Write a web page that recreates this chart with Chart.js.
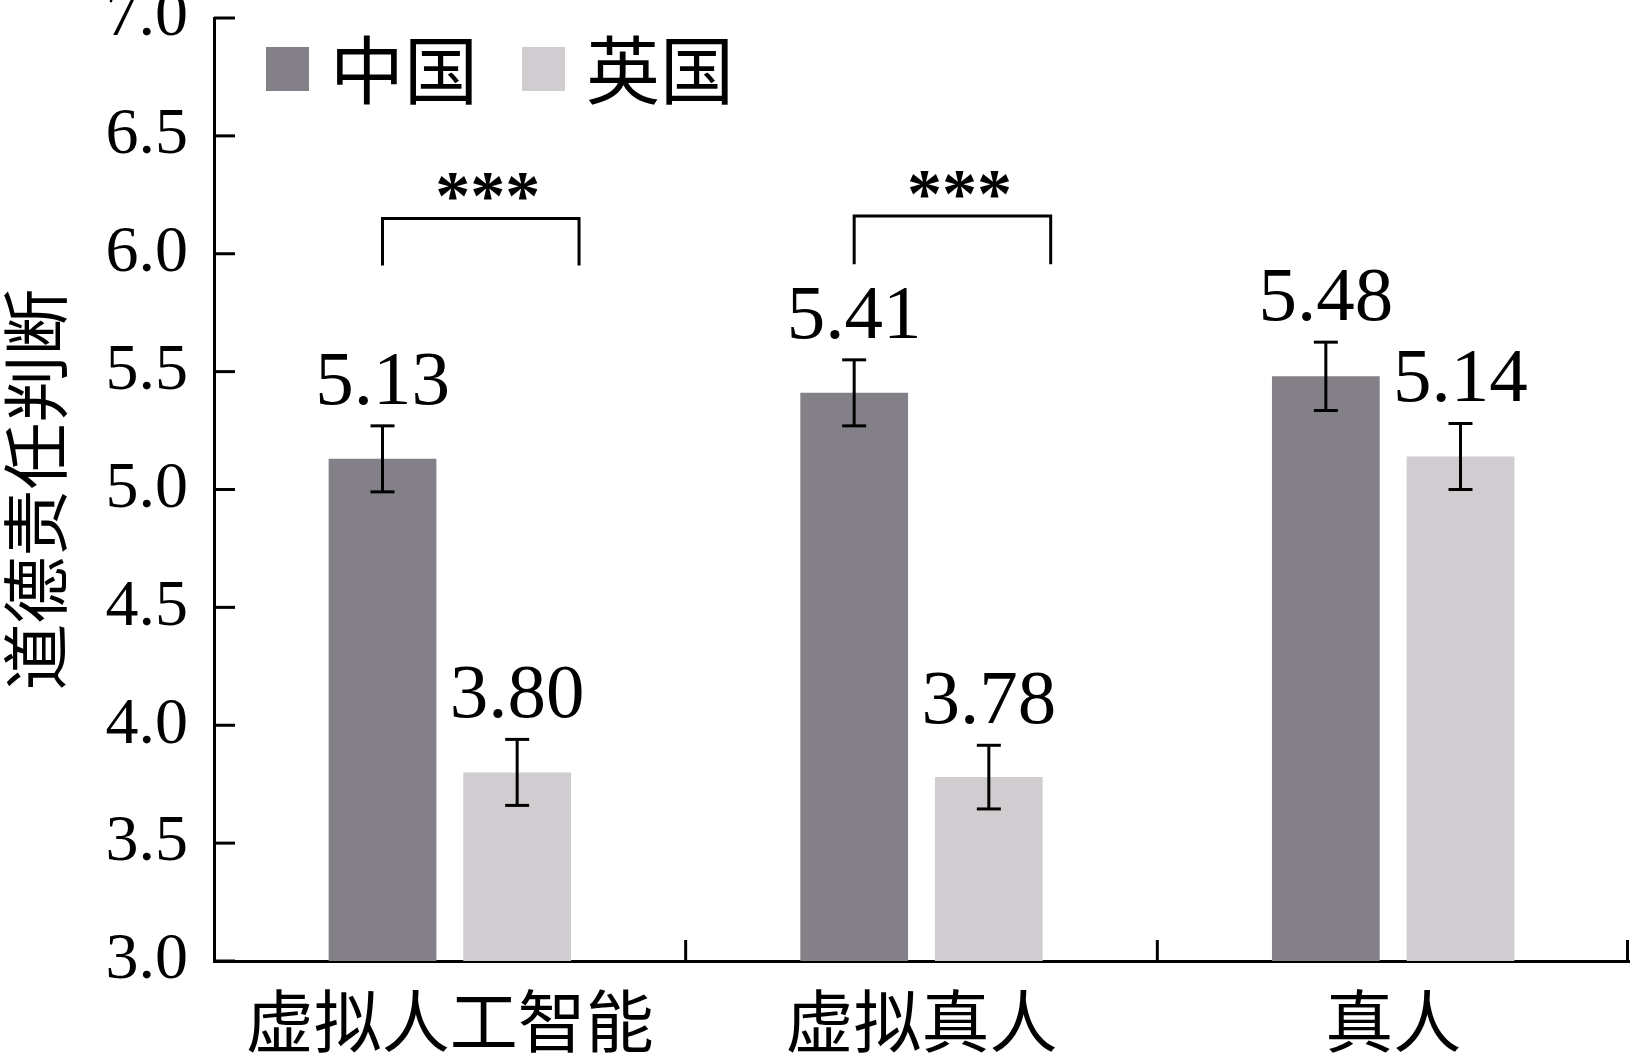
<!DOCTYPE html>
<html>
<head>
<meta charset="utf-8">
<title>道德责任判断</title>
<script src="https://cdn.jsdelivr.net/npm/chart.js@4.4.0/dist/chart.umd.min.js"></script>
<style>
  body { margin:0; background:#fff; }
  #c { display:block; }
</style>
</head>
<body>
<canvas id="c" width="1634" height="1061"></canvas>
<script>
// data
const categories = ['虚拟人工智能', '虚拟真人', '真人'];
const seriesNames = ['中国', '英国'];
const chinaMeans = [5.13, 5.41, 5.48];
const ukMeans = [3.80, 3.78, 5.14];
const chinaErr = [0.14, 0.14, 0.145];
const ukErr = [0.14, 0.135, 0.14];
const yMin = 3.0, yMax = 7.0, yStep = 0.5;
const yTitle = '道德责任判断';
// significance brackets: category index, top of bracket, foot of legs
const sigCats = [0, 1];
const sigTop = [6.15, 6.16];
const sigFoot = [5.95, 5.955];
const sigText = ['***', '***'];

const serif = "'Liberation Serif', 'Times New Roman', serif";
const cjk = "'Noto Sans CJK SC', 'Noto Sans CJK JP', sans-serif";
const colors = ['#838187', '#d0cccf'];

function seg(ctx, x1, y1, x2, y2){ ctx.beginPath(); ctx.moveTo(x1,y1); ctx.lineTo(x2,y2); ctx.stroke(); }

const decor = {
  id: 'decor',
  afterDatasetsDraw(chart){
    const ctx = chart.ctx, xs = chart.scales.x, ys = chart.scales.y, area = chart.chartArea;
    ctx.save();
    ctx.strokeStyle = '#000'; ctx.fillStyle = '#000'; ctx.lineWidth = 3;
    // inward ticks on y axis
    ys.ticks.forEach(t => { const py = ys.getPixelForValue(t.value); seg(ctx, area.left, py, area.left + 21, py); });
    // upward ticks between categories and at right end
    for (let i = 0; i < categories.length; i++) {
      const px = i < categories.length - 1 ? (xs.getPixelForValue(i) + xs.getPixelForValue(i + 1)) / 2 : area.right - 1.5;
      seg(ctx, px, area.bottom, px, area.bottom - 21);
    }
    // error bars + value labels
    ctx.font = '77px ' + serif; ctx.textAlign = 'center'; ctx.textBaseline = 'alphabetic';
    chart.data.datasets.forEach((ds, di) => {
      chart.getDatasetMeta(di).data.forEach((bar, i) => {
        const v = ds.data[i], e = ds.err[i];
        const top = ys.getPixelForValue(v + e), bot = ys.getPixelForValue(v - e);
        seg(ctx, bar.x, top, bar.x, bot);
        seg(ctx, bar.x - 12, top, bar.x + 12, top);
        seg(ctx, bar.x - 12, bot, bar.x + 12, bot);
        ctx.fillText(v.toFixed(2), bar.x, top - 22);
      });
    });
    // significance brackets
    ctx.font = 'bold 70px ' + serif;
    sigCats.forEach((c, k) => {
      const a = chart.getDatasetMeta(0).data[c], b = chart.getDatasetMeta(1).data[c];
      const x1 = a.x, x2 = b.x + b.width / 2 + 8;
      const yt = ys.getPixelForValue(sigTop[k]), yf = ys.getPixelForValue(sigFoot[k]);
      ctx.beginPath(); ctx.moveTo(x1, yf); ctx.lineTo(x1, yt); ctx.lineTo(x2, yt); ctx.lineTo(x2, yf); ctx.stroke();
      ctx.fillText(sigText[k], (x1 + x2) / 2 + 7, yt + 1);
    });
    // legend
    ctx.textAlign = 'left'; ctx.textBaseline = 'middle'; ctx.font = '74px ' + cjk;
    const lx = [266, 522];
    chart.data.datasets.forEach((ds, di) => {
      ctx.fillStyle = ds.backgroundColor;
      ctx.fillRect(lx[di], 47, 43, 44);
      ctx.fillStyle = '#000';
      ctx.fillText(ds.label, lx[di] + 64, 70);
    });
    ctx.restore();
  }
};

new Chart(document.getElementById('c'), {
  type: 'bar',
  data: {
    labels: categories,
    datasets: [
      { label: seriesNames[0], data: chinaMeans, err: chinaErr, backgroundColor: colors[0], categoryPercentage: 0.571, barPercentage: 0.8 },
      { label: seriesNames[1], data: ukMeans, err: ukErr, backgroundColor: colors[1], categoryPercentage: 0.571, barPercentage: 0.8 }
    ]
  },
  options: {
    responsive: false,
    animation: false,
    layout: { padding: { top: 18, right: 5, left: 0, bottom: 0 } },
    plugins: { legend: { display: false }, tooltip: { enabled: false } },
    scales: {
      x: {
        grid: { display: true, drawOnChartArea: false, drawTicks: false },
        border: { display: true, color: '#000', width: 3 },
        ticks: { color: '#000', padding: 26, font: { family: cjk, size: 68, lineHeight: 1 } },
        afterFit(s){ s.height = 100; s.paddingLeft = 0; s.paddingRight = 0; }
      },
      y: {
        min: yMin, max: yMax,
        grid: { display: true, drawOnChartArea: false, drawTicks: false },
        border: { display: true, color: '#000', width: 3 },
        ticks: { stepSize: yStep, color: '#000', padding: 26, font: { family: serif, size: 66, lineHeight: 0.5 },
                 callback: v => v.toFixed(1) },
        title: { display: true, text: yTitle, color: '#000', font: { family: cjk, size: 67, lineHeight: 1 }, padding: { top: 2, bottom: 0 } },
        afterFit(s){ s.width = 214; s.paddingTop = 0; s.paddingBottom = 0; }
      }
    }
  },
  plugins: [decor]
});
</script>
</body>
</html>
